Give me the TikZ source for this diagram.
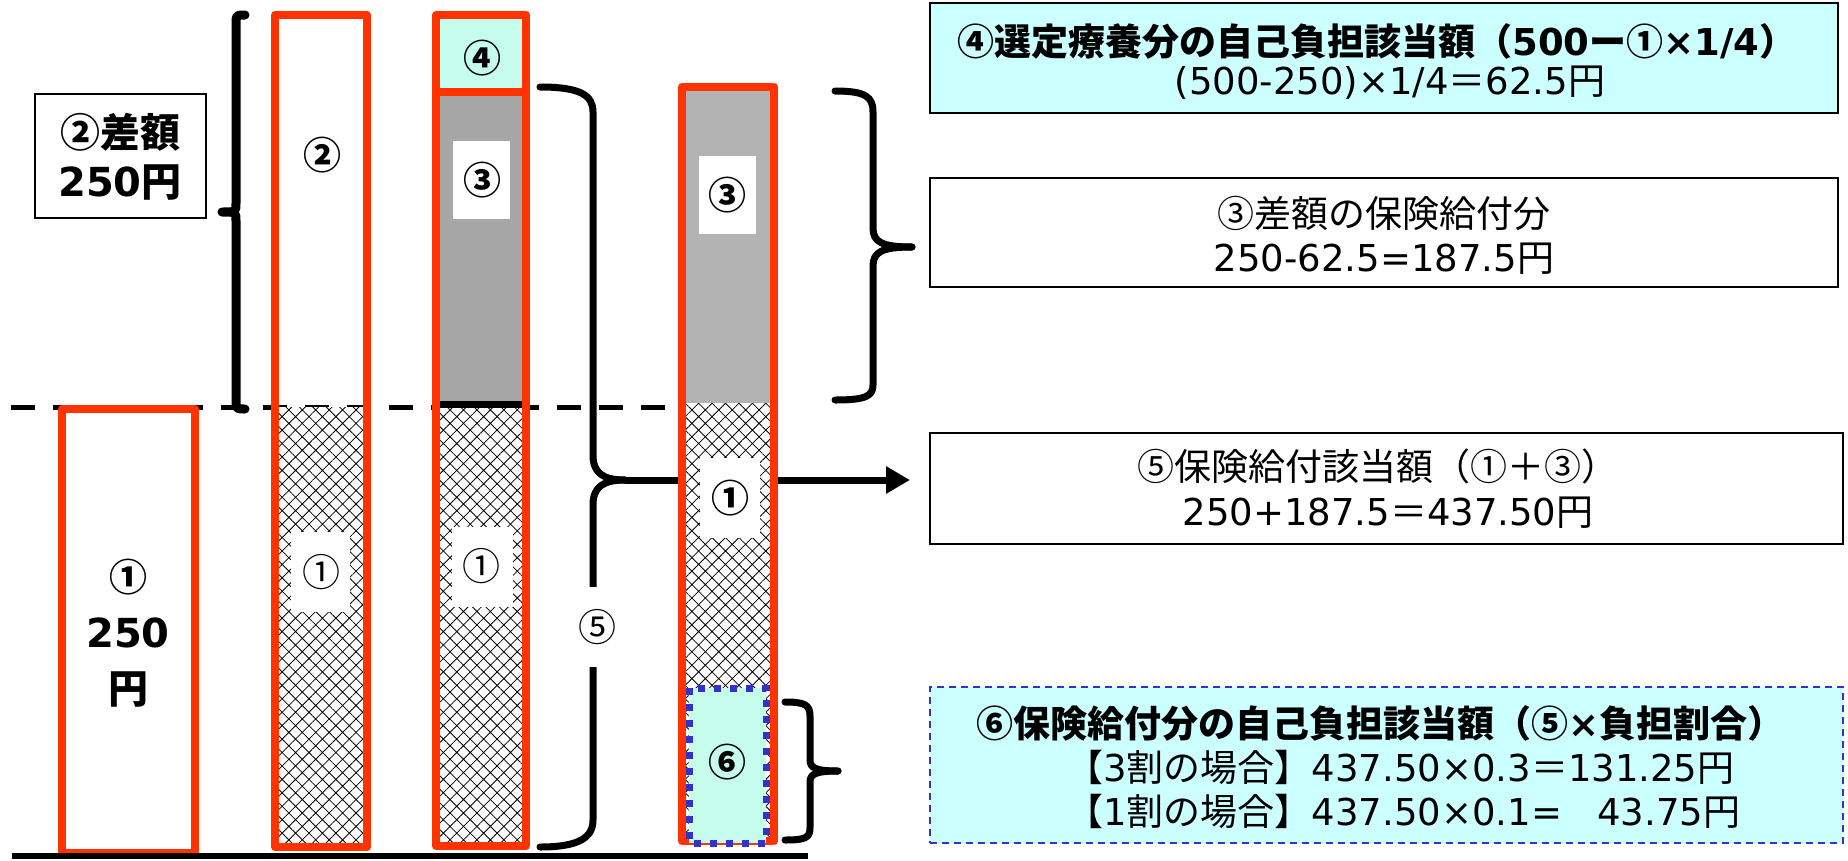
\documentclass[tikz,border=0pt]{standalone}
\usepackage{fontspec}
\setmainfont{Noto Sans CJK JP}
\newfontfamily\latf{DejaVu Sans}
\newcommand\numf[1]{{\latf #1}}
\usetikzlibrary{patterns,patterns.meta,arrows.meta}
\definecolor{barred}{RGB}{255,51,0}
\definecolor{mint}{RGB}{197,252,235}
\definecolor{lcyan}{RGB}{204,255,255}
\definecolor{gdark}{RGB}{166,166,166}
\definecolor{glight}{RGB}{179,179,179}
\definecolor{dblue}{RGB}{51,51,204}
\tikzset{
 redbar/.style={draw=barred, line width=8pt, line join=round},
 hatchfill/.style={pattern={Hatch[angle=45,distance=9.5pt,line width=0.8pt]}, pattern color=black},
 brace/.style={draw=black, line width=7pt, line cap=round, line join=round},
 circ/.style={font=\fontsize{38}{38}\selectfont, inner sep=0pt},
 circb/.style={font=\fontsize{38}{38}\selectfont\bfseries, inner sep=0pt},
 bigb/.style={font=\fontsize{40}{40}\selectfont\bfseries, inner sep=0pt},
 txtbox/.style={draw=black, line width=1.5pt, inner sep=0pt},
 btxt/.style={font=\fontsize{37}{37}\selectfont\bfseries, inner sep=0pt},
 rtxt/.style={font=\fontsize{37}{37}\selectfont, inner sep=0pt},
}
\begin{document}
\begin{tikzpicture}[x=1pt,y=-1pt]
\useasboundingbox (0,0) rectangle (1848,860);

% dashed reference line
\draw[line width=5pt, dash pattern=on 24pt off 18pt] (11,407) -- (668,407);

% left box
\node[txtbox, minimum width=171pt, minimum height=124pt] (diffbox) at (120.5,156) {};
\node[bigb] (difft1) at (120,132) {②差額};
\node[bigb] (difft2) at (120,183) {\numf{250}円};

% left bracket
\draw[brace, line width=9pt] (245,15) .. controls (236,15) .. (236,24) -- (236,203) .. controls (236,212) .. (222,212) .. controls (236,212) .. (236,221) -- (236,400) .. controls (236,409) .. (245,409);

% bar 1
\draw[redbar, fill=white] (62,409) rectangle (195,853);
\node[circb] (b1c) at (128,577) {①};
\node[bigb] (b1n) at (128,633) {\numf{250}};
\node[bigb] (b1y) at (128,690) {円};

% bar 2
\fill[white] (275,407) rectangle (367,847);
\fill[hatchfill] (275,407) rectangle (367,847);
\fill[white] (291,532) rectangle (350,612);
\draw[redbar] (275,15) rectangle (367,847);
\node[circb] (b2a) at (322,155) {②};
\node[circ] (b2b) at (321,572) {①};

% bar 3
\fill[mint] (436,15) rectangle (526,92);
\draw[black, line width=1.5pt, fill=gdark] (433,92) rectangle (524,405);
\fill[white] (436,405) rectangle (526,846);
\fill[hatchfill] (436,405) rectangle (526,846);
\draw[black, line width=7pt] (436,404) -- (526,404);
\fill[white] (453,141) rectangle (510,219);
\fill[white] (452,527) rectangle (513,607);
\draw[redbar] (436,15) rectangle (526,846);
\draw[redbar] (436,92) -- (526,92);
\node[circb] (b3a) at (482,58) {④};
\node[circb] (b3b) at (482,180) {③};
\node[circ] (b3c) at (481,566) {①};

% brace 5 and arrow
\coordinate (tip5) at (625,480);
\coordinate (arrowend) at (910,480);
\draw[brace] (540,87) .. controls (580,87) and (593,95) .. (593,112) -- (593,455) .. controls (593,473) and (603,480) .. (tip5);
\draw[brace] (tip5) .. controls (603,480) and (593,487) .. (593,505) -- (593,820) .. controls (593,837) and (580,847) .. (540,847);
\draw[line width=7pt, -{Triangle[length=24pt,width=26pt]}] (tip5) -- (arrowend);
\node[circ, fill=white, minimum height=80pt, minimum width=46pt] (l5) at (597,627) {⑤};

% bar 4
\fill[glight] (682,87) rectangle (774,403);
\fill[white] (682,403) rectangle (774,841);
\fill[hatchfill] (682,403) rectangle (774,841);
\fill[white] (699,156) rectangle (756,234);
\fill[white] (700,458) rectangle (760,538);
\draw[redbar] (682,87) rectangle (774,841);
\draw[draw=dblue, line width=7pt, dash pattern=on 7pt off 9pt, fill=mint] (689,688) rectangle (766,843);
\node[circb] (b4a) at (727,195) {③};
\node[circb] (b4b) at (730,498) {①};
\node[circb] (b4c) at (727,762) {⑥};

% right braces
\draw[brace] (835,91) .. controls (866,91) and (873,97) .. (873,112) -- (873,228) .. controls (873,242) and (882,247) .. (912,247);
\draw[brace] (912,247) .. controls (882,247) and (873,252) .. (873,266) -- (873,385) .. controls (873,396) and (866,400) .. (835,400);
\draw[brace] (785,702) .. controls (805,702) and (810,705) .. (810,716) -- (810,760) .. controls (810,768) and (816,771) .. (838,771);
\draw[brace] (838,771) .. controls (816,771) and (810,774) .. (810,782) -- (810,828) .. controls (810,838) and (805,840) .. (785,840);

% baseline
\draw[line width=6pt] (12,856) -- (808,856);

% text box 4
\node[txtbox, fill=lcyan, minimum width=908pt, minimum height=110pt] (box4) at (1384,58) {};
\node[btxt] (box4a) at (1377,41) {④選定療養分の自己負担該当額（\numf{500}ー①\numf{×1/4}）};
\node[rtxt] (box4b) at (1390,83) {\numf{(500-250)×1/4}＝\numf{62.5}円};

% text box 3
\node[txtbox, minimum width=908pt, minimum height=109pt] (box3) at (1384,232.5) {};
\node[rtxt] (box3a) at (1384,213) {③差額の保険給付分};
\node[rtxt] (box3b) at (1384,259) {\numf{250-62.5=187.5}円};

% text box 5
\node[txtbox, minimum width=913pt, minimum height=111pt] (box5) at (1386.5,488.5) {};
\node[rtxt] (box5a) at (1378,466) {⑤保険給付該当額（①＋③）};
\node[rtxt] (box5b) at (1388,513) {\numf{250+187.5}＝\numf{437.50}円};

% text box 6
\node[draw=dblue, line width=1.8pt, dash pattern=on 7pt off 5pt, fill=lcyan, minimum width=913pt, minimum height=156pt, inner sep=0pt] (box6) at (1386.5,765) {};
\node[btxt] (box6a) at (1380,723) {⑥保険給付分の自己負担該当額（⑤\numf{×}負担割合）};
\node[rtxt, anchor=west] (box6b) at (1066,767) {【\numf{3}割の場合】\numf{437.50×0.3}＝\numf{131.25}円};
\node[rtxt, anchor=west] (box6c) at (1066,811) {【\numf{1}割の場合】\numf{437.50×0.1=\ \ \ 43.75}円};
\end{tikzpicture}
\end{document}
